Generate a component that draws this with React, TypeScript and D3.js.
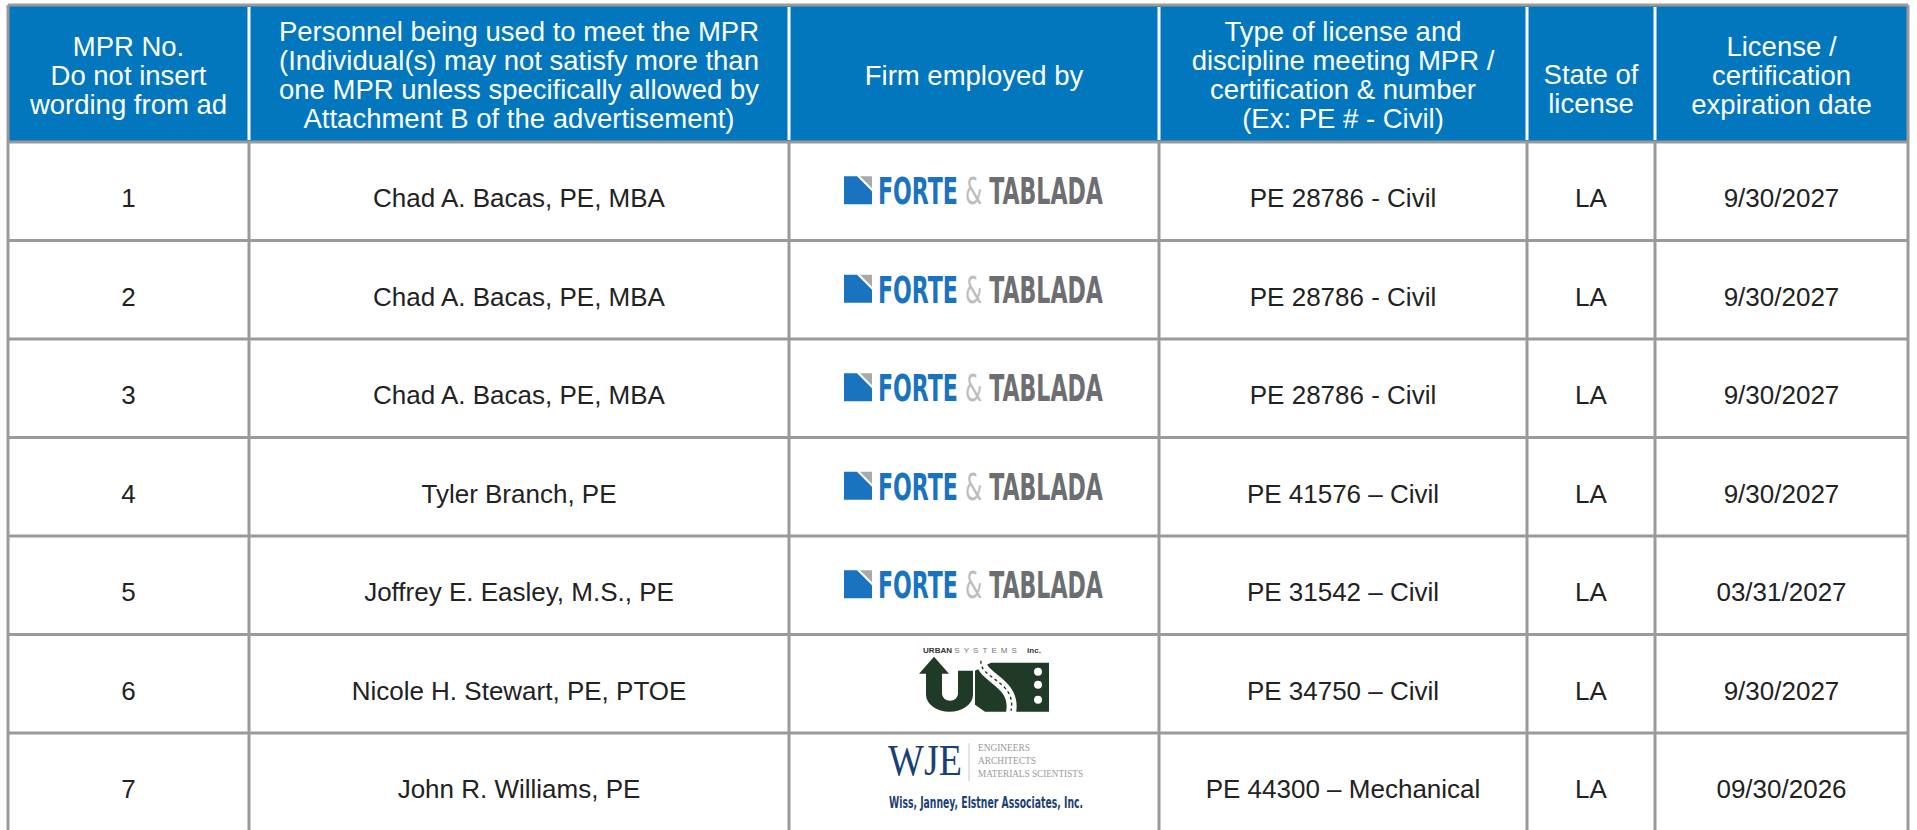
import React, { useLayoutEffect, useRef, useState } from "react";
import * as d3 from "d3";

// table content
const headers = [
  ["MPR No.", "Do not insert", "wording from ad"],
  [
    "Personnel being used to meet the MPR",
    "(Individual(s) may not satisfy more than",
    "one MPR unless specifically allowed by",
    "Attachment B of the advertisement)",
  ],
  ["Firm employed by"],
  ["Type of license and", "discipline meeting MPR /", "certification & number", "(Ex: PE # - Civil)"],
  ["State of", "license"],
  ["License /", "certification", "expiration date"],
];

const mprNumbers = ["1", "2", "3", "4", "5", "6", "7"];
const personnel = [
  "Chad A. Bacas, PE, MBA",
  "Chad A. Bacas, PE, MBA",
  "Chad A. Bacas, PE, MBA",
  "Tyler Branch, PE",
  "Joffrey E. Easley, M.S., PE",
  "Nicole H. Stewart, PE, PTOE",
  "John R. Williams, PE",
];
const firms = ["forte", "forte", "forte", "forte", "forte", "urban", "wje"];
const licenses = [
  "PE 28786 - Civil",
  "PE 28786 - Civil",
  "PE 28786 - Civil",
  "PE 41576 \u2013 Civil",
  "PE 31542 \u2013 Civil",
  "PE 34750 \u2013 Civil",
  "PE 44300 \u2013 Mechanical",
];
const states = ["LA", "LA", "LA", "LA", "LA", "LA", "LA"];
const expirations = [
  "9/30/2027",
  "9/30/2027",
  "9/30/2027",
  "9/30/2027",
  "03/31/2027",
  "9/30/2027",
  "09/30/2026",
];

// layout
const W = 1917;
const H = 830;
const colEdges = [8, 249, 789, 1159, 1527, 1655, 1908];
const top = 5;
const headBottom = 142;
const rowH = 98.5;
const BLUE = "#0277bd";
const GRID = "#9a9a9a";
const FONT = "'Liberation Sans', Arial, sans-serif";
const NARROW = "'Liberation Sans Narrow', 'DejaVu Sans Condensed', sans-serif";

const ForteLogo = ({ cx, cy }: { cx: number; cy: number }) => {
  const x0 = cx - 130;
  const y0 = cy - 14;
  const ref = useRef<SVGTextElement>(null);
  const [sx, setSx] = useState(0.78);
  useLayoutEffect(() => {
    if (ref.current) {
      const len = ref.current.getComputedTextLength();
      if (len > 0) setSx(225 / len);
    }
  }, []);
  return (
    <g transform={`translate(${x0},${y0})`}>
      <path d="M0,0 L13,0 L28,15 L28,28 L0,28 Z" fill="#1a73be" />
      <path d="M16,0 L28,0 L28,12 Z" fill="#a7a9ac" />
      {/* squeeze the wordmark horizontally to the logo width */}
      <g transform={`translate(34,28) scale(${sx},1)`}>
        <text ref={ref} x={0} y={0} fontFamily={NARROW} fontWeight="bold" fontSize={37}>
          <tspan fill="#1a73be">FORTE</tspan>
          <tspan fill="#bdbdbd" fontWeight="normal">{" & "}</tspan>
          <tspan fill="#6d6e71">TABLADA</tspan>
        </text>
      </g>
    </g>
  );
};

const UrbanLogo = ({ cx, cy }: { cx: number; cy: number }) => {
  const x0 = cx - 55;
  const y0 = cy - 39;
  const green = "#1f3a26";
  return (
    <g transform={`translate(${x0},${y0})`}>
      <text x={4} y={8} fontFamily={FONT} fontSize={8} textLength={118} lengthAdjust="spacing">
        <tspan fontWeight="bold" fill="#333">URBAN </tspan>
        <tspan fill="#777" letterSpacing={4}>SYSTEMS </tspan>
        <tspan fontWeight="bold" fill="#333">inc.</tspan>
      </text>
      <path d="M0,29 L15,12 L30,29 Z" fill={green} />
      <path d="M7,28 L7,50 A23.5,17 0 0 0 54,50 L54,26 L39,26 L39,49 A8,7 0 0 1 23,49 L23,28 Z" fill={green} />
      <path d="M56,26 L72,18 L112,18 L112,67 L66,67 L56,60 Z" fill={green} />
      <path d="M62,14 C60,34 98,36 92,68" fill="none" stroke="#fff" strokeWidth={10} />
      <path d="M62,16 C60,34 98,36 92,66" fill="none" stroke={green} strokeWidth={1.4} strokeDasharray="3,3" />
      <rect x={112} y={18} width={18} height={49} fill={green} />
      <circle cx={119} cy={27} r={4} fill="#fff" />
      <circle cx={119} cy={40} r={4} fill="#fff" />
      <circle cx={119} cy={55} r={4} fill="#fff" />
    </g>
  );
};

const WjeLogo = ({ cx, cy }: { cx: number; cy: number }) => {
  const x0 = cx - 86;
  const y0 = cy - 37;
  const navy = "#1c3f74";
  const serif = "'Liberation Serif', 'DejaVu Serif', serif";
  return (
    <g transform={`translate(${x0},${y0})`}>
      <text x={0} y={30} fontFamily={serif} fontSize={44} fill={navy}
        textLength={74} lengthAdjust="spacingAndGlyphs">WJE</text>
      <line x1={81} x2={81} y1={-2} y2={36} stroke="#c8c8c8" strokeWidth={1} />
      <text fontFamily={serif} fontSize={11} fill="#9a9a9a">
        <tspan x={90} y={6} textLength={52} lengthAdjust="spacingAndGlyphs">ENGINEERS</tspan>
        <tspan x={90} y={19} textLength={58} lengthAdjust="spacingAndGlyphs">ARCHITECTS</tspan>
        <tspan x={90} y={32} textLength={105} lengthAdjust="spacingAndGlyphs">MATERIALS SCIENTISTS</tspan>
      </text>
      <text x={1} y={63} fontFamily={NARROW} fontWeight="bold" fontSize={15} fill={navy}
        textLength={194} lengthAdjust="spacingAndGlyphs">
        Wiss, Janney, Elstner Associates, Inc.
      </text>
    </g>
  );
};

const App = () => {
  const y = d3.scaleBand<string>().domain(mprNumbers).range([headBottom, headBottom + rowH * mprNumbers.length]);
  const colCenter = (i: number) => (colEdges[i] + colEdges[i + 1]) / 2;
  const lineH = 29;
  // "State of license" sits lower in its cell
  const headShift = [0, 0, 0, 0, 14, 0];

  const bodyCols = [mprNumbers, personnel, null, licenses, states, expirations];

  return (
    <svg width={W} height={H} style={{ position: "absolute", left: 0, top: 0, background: "#fff" }}>
      <rect x={colEdges[0]} y={top} width={colEdges[6] - colEdges[0]} height={headBottom - top} fill={BLUE} />
      {colEdges.slice(1, -1).map((x, i) => (
        <line key={"hd" + i} x1={x} x2={x} y1={top + 2} y2={headBottom - 2} stroke="#fff" strokeWidth={3} />
      ))}
      {headers.map((lines, i) => {
        const first = 84.5 - ((lines.length - 1) * lineH) / 2 + headShift[i];
        return (
          <text key={"h" + i} textAnchor="middle" fontFamily={FONT} fontSize={27.5} fill="#fff">
            {lines.map((l, j) => (
              <tspan key={j} x={colCenter(i)} y={first + j * lineH}>{l}</tspan>
            ))}
          </text>
        );
      })}

      {mprNumbers.map((m, r) => {
        const cy = (y(m) as number) + y.bandwidth() / 2;
        return (
          <g key={"r" + r}>
            {bodyCols.map((col, c) =>
              col ? (
                <text key={c} x={colCenter(c)} y={cy + 16} textAnchor="middle" fontFamily={FONT}
                  fontSize={26} fill="#222">{col[r]}</text>
              ) : null
            )}
            {firms[r] === "forte" && <ForteLogo cx={colCenter(2)} cy={cy - 1} />}
            {firms[r] === "urban" && <UrbanLogo cx={colCenter(2)} cy={cy} />}
            {firms[r] === "wje" && <WjeLogo cx={colCenter(2)} cy={cy} />}
          </g>
        );
      })}

      {/* grid */}
      {mprNumbers.map((m, r) => (
        <line key={"hl" + r} x1={colEdges[0]} x2={colEdges[6]} y1={y(m) as number} y2={y(m) as number}
          stroke={GRID} strokeWidth={3} />
      ))}
      {colEdges.slice(1, -1).map((x, i) => (
        <line key={"vl" + i} x1={x} x2={x} y1={headBottom} y2={H + 5} stroke={GRID} strokeWidth={3} />
      ))}
      <line x1={colEdges[0]} x2={colEdges[6]} y1={top} y2={top} stroke={GRID} strokeWidth={3} />
      <line x1={colEdges[0]} x2={colEdges[0]} y1={top} y2={H + 5} stroke={GRID} strokeWidth={3} />
      <line x1={colEdges[6]} x2={colEdges[6]} y1={top} y2={H + 5} stroke={GRID} strokeWidth={3} />
    </svg>
  );
};

export default App;
